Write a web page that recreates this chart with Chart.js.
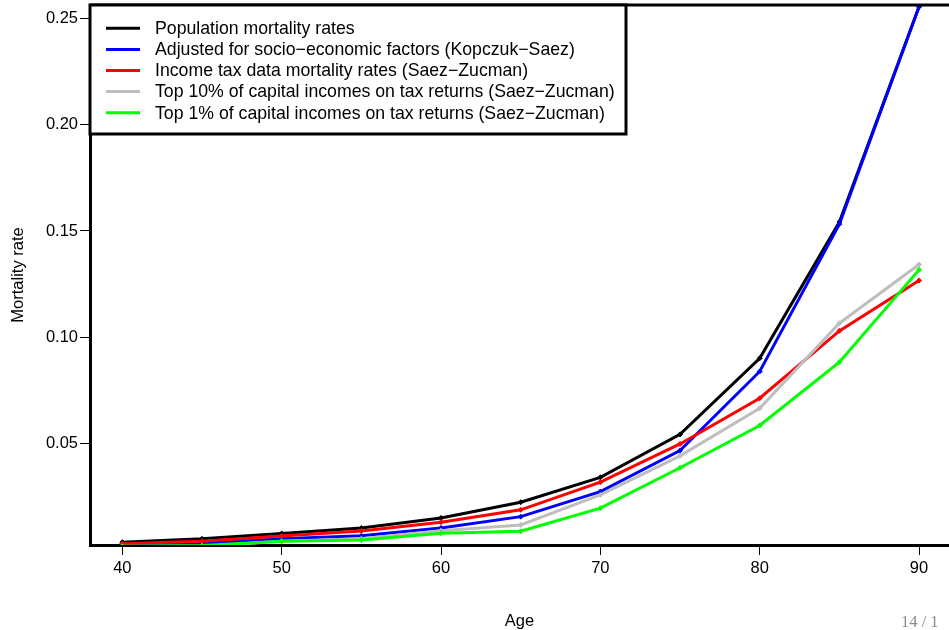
<!DOCTYPE html>
<html>
<head>
<meta charset="utf-8">
<script src="https://cdn.jsdelivr.net/npm/chart.js@4"></script>
<style>
	html, body { margin: 0; padding: 0; background: #fff; }
	#wrap { position: relative; width: 949px; height: 630px; overflow: hidden; }
	#pageNum { position: absolute; left: 901px; top: 612px; font-family: "Liberation Serif", serif; font-size: 16.5px; color: #8c8c8c; }
</style>
</head>
<body>
<div id="wrap">
	<canvas id="mortalityChart" width="949" height="630"></canvas>
	<div id="pageNum">14 / 1</div>
</div>
<script>
// data
const ages = [40, 45, 50, 55, 60, 65, 70, 75, 80, 85, 90];
const population = [0.0036, 0.0052, 0.0077, 0.0103, 0.0150, 0.0224, 0.0341, 0.0543, 0.0901, 0.1542, 0.2555];
const kopczukSaez = [0.0025, 0.0030, 0.0052, 0.0066, 0.0103, 0.0156, 0.0274, 0.0467, 0.0839, 0.1532, 0.2555];
const taxData = [0.0029, 0.0040, 0.0065, 0.0088, 0.0130, 0.0188, 0.0318, 0.0498, 0.0713, 0.1030, 0.1267];
const top10 = [0.0012, 0.0016, 0.0040, 0.0052, 0.0090, 0.0117, 0.0258, 0.0442, 0.0666, 0.1066, 0.1342];
const top1 = [0.0017, 0.0020, 0.0040, 0.0046, 0.0078, 0.0087, 0.0196, 0.0386, 0.0585, 0.0883, 0.1317];

const seriesLabels = [
	'Population mortality rates',
	'Adjusted for socio\u2212economic factors (Kopczuk\u2212Saez)',
	'Income tax data mortality rates (Saez\u2212Zucman)',
	'Top 10% of capital incomes on tax returns (Saez\u2212Zucman)',
	'Top 1% of capital incomes on tax returns (Saez\u2212Zucman)'
];
const seriesColors = ['#000000', '#0000ff', '#ff0000', '#bebebe', '#00ff00'];

const xTicks = [40, 50, 60, 70, 80, 90];
const yTicks = [0.05, 0.10, 0.15, 0.20, 0.25];

const font = 'Liberation Sans, Arial, sans-serif';

function makeDataset(i, values) {
	return {
		label: seriesLabels[i],
		data: ages.map((a, k) => ({ x: a, y: values[k] })),
		borderColor: seriesColors[i],
		backgroundColor: seriesColors[i],
		borderWidth: 3,
		pointStyle: 'rectRot',
		pointRadius: 2.5,
		pointBorderWidth: 1,
		tension: 0,
		order: 5 - i // later series drawn on top
	};
}

// frame on top edge + boxed legend inside the plot
const framePlugin = {
	id: 'frame',
	afterDraw(chart) {
		const ctx = chart.ctx;
		const a = chart.chartArea;
		ctx.save();
		ctx.strokeStyle = '#000';
		ctx.lineWidth = 3;
		ctx.beginPath();
		ctx.moveTo(a.left, a.top);
		ctx.lineTo(a.right + 2, a.top);
		ctx.stroke();

		// legend box
		const boxL = a.left, boxT = a.top, boxR = 626, boxB = 134;
		ctx.fillStyle = '#fff';
		ctx.fillRect(boxL, boxT, boxR - boxL, boxB - boxT);
		ctx.strokeRect(boxL, boxT, boxR - boxL, boxB - boxT);

		ctx.font = '17.7px ' + font;
		ctx.textBaseline = 'middle';
		seriesLabels.forEach((lbl, i) => {
			const y = 28.3 + i * 21.1;
			ctx.strokeStyle = seriesColors[i];
			ctx.lineWidth = 3;
			ctx.beginPath();
			ctx.moveTo(106, y);
			ctx.lineTo(140, y);
			ctx.stroke();
			ctx.fillStyle = '#000';
			ctx.fillText(lbl, 155, y + 1);
		});
		ctx.restore();
	}
};

const config = {
	type: 'line',
	data: {
		datasets: [
			makeDataset(0, population),
			makeDataset(1, kopczukSaez),
			makeDataset(2, taxData),
			makeDataset(3, top10),
			makeDataset(4, top1)
		]
	},
	options: {
		responsive: false,
		devicePixelRatio: 1,
		animation: false,
		layout: { autoPadding: false, padding: { top: 5, right: 0, left: 0, bottom: 0 } },
		plugins: {
			legend: { display: false },
			tooltip: { enabled: false }
		},
		scales: {
			x: {
				type: 'linear',
				min: 37.97,
				max: 91.88,
				afterBuildTicks: (scale) => { scale.ticks = xTicks.map(v => ({ value: v })); },
				afterFit: (scale) => {
					scale.height = 85;
					scale.paddingLeft = 0;
					scale.paddingRight = 0;
				},
				ticks: {
					color: '#000',
					font: { family: font, size: 16.5 },
					padding: 4,
					maxRotation: 0,
					callback: (v) => String(v)
				},
				grid: { drawOnChartArea: false, drawTicks: true, tickLength: 10, color: '#000', lineWidth: 1 },
				border: { display: true, color: '#000', width: 3 },
				title: {
					display: true,
					text: 'Age',
					color: '#000',
					font: { family: font, size: 16.5 },
					padding: { top: 0, bottom: -1 }
				}
			},
			y: {
				type: 'linear',
				min: 0.00226,
				max: 0.2563,
				afterBuildTicks: (scale) => { scale.ticks = yTicks.map(v => ({ value: v })); },
				afterFit: (scale) => {
					scale.width = 90;
					scale.paddingTop = 0;
					scale.paddingBottom = 0;
				},
				ticks: {
					color: '#000',
					font: { family: font, size: 16.5 },
					padding: 2,
					callback: (v) => v.toFixed(2)
				},
				grid: { drawOnChartArea: false, drawTicks: true, tickLength: 10, color: '#000', lineWidth: 1 },
				border: { display: true, color: '#000', width: 3 },
				title: {
					display: true,
					text: 'Mortality rate',
					color: '#000',
					font: { family: font, size: 16.5 },
					padding: { top: 9, bottom: 0 }
				}
			}
		}
	},
	plugins: [framePlugin]
};

new Chart(document.getElementById('mortalityChart'), config);
</script>
</body>
</html>
